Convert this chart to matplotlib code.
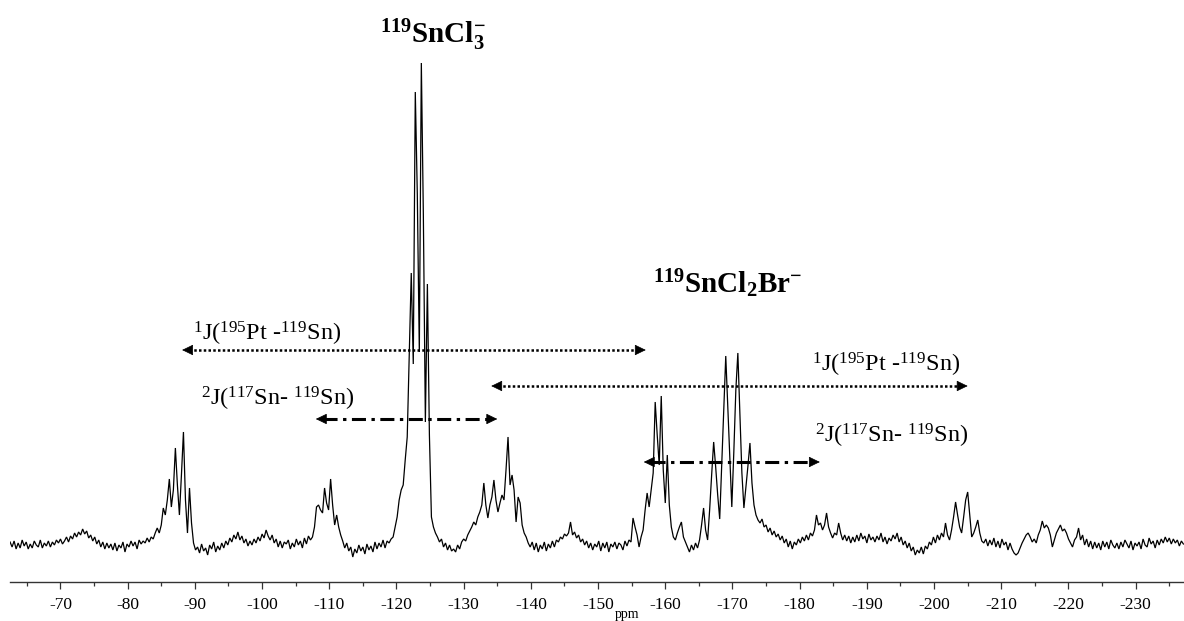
import numpy as np
import matplotlib
matplotlib.use("Agg")
import matplotlib.pyplot as plt
from matplotlib.ticker import MultipleLocator, FuncFormatter

plt.rcParams["font.family"] = ["Liberation Serif", "DejaVu Serif"]
plt.rcParams["mathtext.fontset"] = "custom"
plt.rcParams["mathtext.rm"] = "Liberation Serif"
plt.rcParams["mathtext.bf"] = "Liberation Serif:bold"
plt.rcParams["mathtext.it"] = "Liberation Serif:italic"
plt.rcParams["axes.unicode_minus"] = False

# 119Sn spectrum, sampled every 0.3 ppm starting at -62.5 ppm
shift_start = -62.5
shift_step = -0.3
intensity = [
    3, -2, 4, -4, 2, -3, 5, -1, 3, -4,
    1, -3, 4, 0, -2, 5, -3, 2, -1, 4,
    -2, 3, 0, 5, 2, 6, 1, 4, 8, 3,
    9, 6, 12, 8, 13, 10, 16, 11, 14, 7,
    10, 4, 8, 1, 5, -2, 3, -4, 2, -3,
    1, -5, 2, -6, 0, -3, 3, -7, 1, -2,
    4, -1, 3, -4, 5, 1, 4, 2, 7, 3,
    8, 6, 12, 17, 12, 20, 37, 30, 45, 66,
    38, 55, 97, 60, 30, 70, 113, 45, 12, 57,
    22, 2, -5, -2, -8, 1, -6, -3, -10, 0,
    -4, 3, -7, -1, -5, 2, -3, 4, 0, 7,
    3, 10, 6, 13, 5, 9, 2, 6, -1, 4,
    0, 6, 2, 8, 4, 11, 7, 15, 9, 5,
    10, 2, 6, -2, 4, -3, 3, 1, 5, -4,
    2, -2, 6, 0, 4, -3, 7, 1, 9, 5,
    8, 18, 38, 40, 35, 32, 57, 42, 35, 66,
    40, 20, 30, 18, 10, 4, -3, 2, -6, -2,
    -12, -4, -8, 0, -6, -2, -9, 1, -5, -1,
    -7, 3, -4, 2, -2, 5, -3, 4, 2, 6,
    8, 18, 28, 45, 55, 60, 85, 108, 190, 272,
    181, 453, 351, 193, 482, 330, 123, 261, 110, 28,
    18, 12, 8, 3, 6, -2, 2, -5, 0, -6,
    -4, -7, 0, -4, 3, 6, 4, 10, 14, 18,
    23, 20, 28, 33, 40, 62, 40, 27, 40, 48,
    65, 45, 33, 42, 50, 45, 75, 108, 60, 70,
    55, 23, 48, 42, 20, 12, 8, 2, -2, 3,
    -5, 2, -7, 0, -4, 3, -6, 1, -3, 4,
    -2, 5, 3, 8, 6, 11, 9, 12, 23, 10,
    13, 7, 10, 3, 6, 0, 4, -3, 2, -5,
    1, -2, 4, -6, 2, -3, 3, -7, 1, -2,
    3, -4, 2, 0, -5, 4, -1, 5, 3, 27,
    18, 10, -2, 8, 15, 35, 52, 38, 55, 72,
    143, 110, 80, 149, 75, 42, 90, 40, 18, 8,
    5, 12, 18, 23, 8, 3, -2, -7, 0, -5,
    2, -3, 5, 20, 37, 15, 5, 35, 70, 103,
    78, 50, 26, 80, 135, 189, 139, 88, 38, 93,
    155, 192, 132, 72, 37, 58, 79, 102, 62, 40,
    30, 25, 22, 26, 18, 20, 13, 17, 10, 14,
    8, 11, 5, 9, 2, 6, -2, 4, -4, 3,
    0, 6, 2, 8, 4, 10, 5, 12, 9, 15,
    30, 20, 22, 15, 20, 32, 18, 12, 7, 12,
    10, 22, 12, 5, 10, 4, 9, 2, 8, 3,
    10, 4, 12, 6, 9, 2, 11, 5, 8, 3,
    9, 5, 12, 3, 8, 1, 7, 4, 10, 6,
    12, 3, 8, 0, 4, -3, 2, -6, -2, -10,
    -5, -8, -2, -9, -1, -4, 3, 0, 8, 2,
    10, 5, 12, 8, 22, 10, 5, 15, 28, 43,
    30, 18, 12, 28, 45, 53, 30, 8, 12, 18,
    25, 12, 4, 2, 6, -1, 5, 0, 7, -2,
    4, -3, 6, 0, 3, -5, 2, -4, -8, -10,
    -8, -3, 2, 6, 10, 12, 8, 3, 6, 2,
    10, 15, 24, 17, 20, 17, 10, -2, 5, 12,
    16, 20, 14, 16, 12, 6, 2, -2, 5, 8,
    17, 5, 10, 0, 6, -2, 4, -4, 3, -3,
    2, -5, 4, -2, 3, -4, 5, 0, -3, 2,
    -4, 3, -2, 5, 1, -3, 4, -5, 2, -1,
    3, -4, 6, 0, -2, 7, 1, 4, -3, 5,
    0, 6, 2, 8, 3, 7, 1, 6, 2, 5,
    -1, 4, 1,
]
shift = shift_start + shift_step * np.arange(len(intensity))

# Coupling arrows: (start ppm, end ppm, height, style)
coupling_arrows = [
    (-88.1, -157.1, 195, "dot"),
    (-134.1, -205.0, 159, "dot"),
    (-108.0, -135.0, 126, "dashdot"),
    (-156.8, -183.0, 83, "dashdot"),
]

# Labels: (ppm, height, text, size, weight)
labels = [
    (-117.5, 502, r"$\mathbf{^{119}}$SnCl$\mathbf{_3^{-}}$", 21, "bold"),
    (-158.2, 252, r"$\mathbf{^{119}}$SnCl$\mathbf{_2}$Br$\mathbf{^{-}}$", 21, "bold"),
    (-89.7, 204, r"$^{1}$J($^{195}$Pt -$^{119}$Sn)", 17.5, "normal"),
    (-90.9, 139, r"$^{2}$J($^{117}$Sn- $^{119}$Sn)", 17.5, "normal"),
    (-181.8, 173, r"$^{1}$J($^{195}$Pt -$^{119}$Sn)", 17.5, "normal"),
    (-182.3, 102, r"$^{2}$J($^{117}$Sn- $^{119}$Sn)", 17.5, "normal"),
]

W, H = 1184, 621
fig = plt.figure(figsize=(W / 100, H / 100), dpi=100)
ax = fig.add_axes([10 / W, 39 / H, 1174 / W, 582 / H])

ax.plot(shift, intensity, color="black", lw=0.9, solid_joinstyle="miter")

ax.set_xlim(-62.49, -237.19)
ax.set_ylim(-37, 545)

for side in ("left", "right", "top"):
    ax.spines[side].set_visible(False)
ax.spines["bottom"].set_linewidth(1.0)
ax.spines["bottom"].set_color("#333333")
ax.set_yticks([])
ax.xaxis.set_major_locator(MultipleLocator(10))
ax.xaxis.set_minor_locator(MultipleLocator(5))
ax.xaxis.set_major_formatter(FuncFormatter(lambda v, p: f"{v:.0f}"))
ax.tick_params(axis="x", which="major", direction="out", length=5,
               width=0.9, color="#333333", labelsize=12.5, pad=5.5)
ax.tick_params(axis="x", which="minor", direction="out", length=3,
               width=0.9, color="#333333")
fig.text(627 / W, 1 - 618 / H, "ppm", fontsize=10, ha="center", va="baseline")

head_ppm = 9 / 6.72
for x0, x1, y, style in coupling_arrows:
    if style == "dot":
        ls = (0, (1.0, 0.9))
        lw = 1.8
    else:
        ls = (0, (4.6, 1.8, 1.1, 1.8))
        lw = 2.2
    direction = 1 if x1 < x0 else -1
    ax.plot([x0 - direction * head_ppm * 0.8, x1 + direction * head_ppm * 0.8],
            [y, y], color="black", lw=lw, linestyle=ls, dash_capstyle="butt")
    for tip, tail in ((x0, x0 - direction * head_ppm), (x1, x1 + direction * head_ppm)):
        ax.annotate("", xy=(tip, y), xytext=(tail, y),
                    arrowprops=dict(arrowstyle="-|>,head_length=0.7,head_width=0.34",
                                    color="black", lw=0.5, shrinkA=0, shrinkB=0,
                                    mutation_scale=10))

for x, y, text, size, weight in labels:
    ax.text(x, y, text, fontsize=size, fontweight=weight, ha="left",
            va="baseline", color="black")

fig.savefig("out.png", dpi=100)
